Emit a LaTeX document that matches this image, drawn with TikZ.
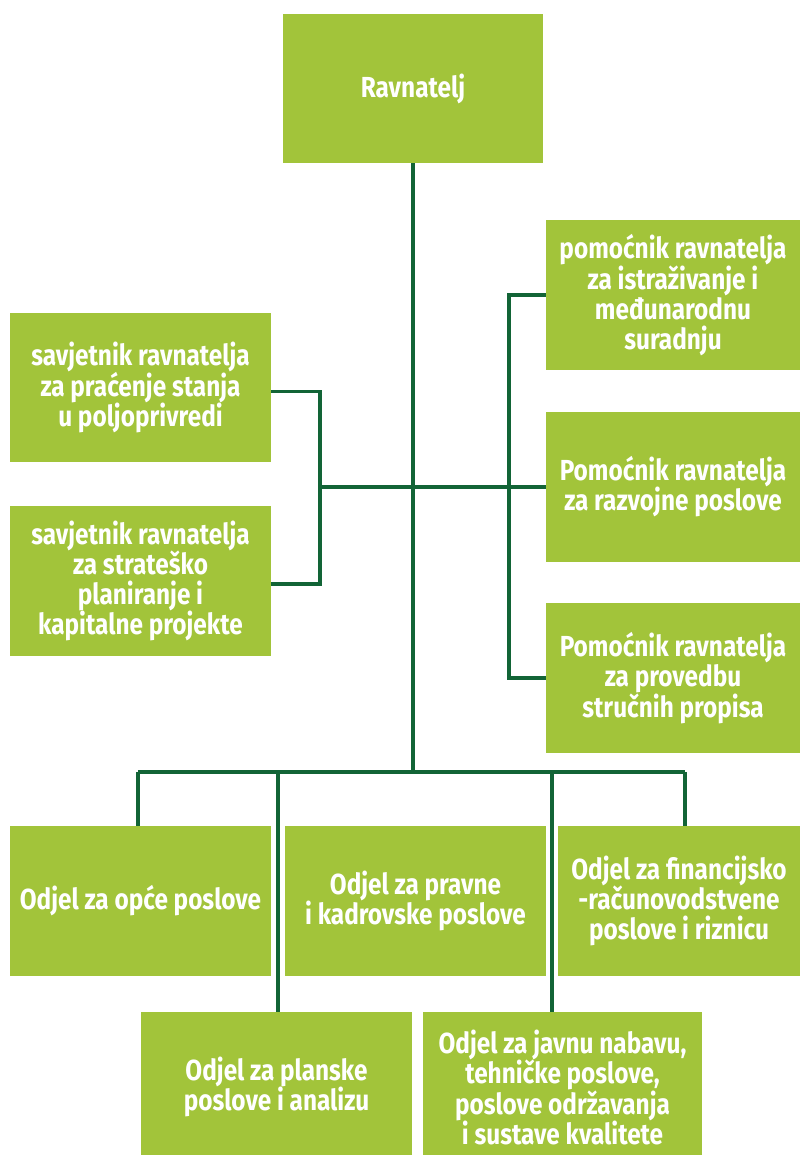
\documentclass[tikz,border=0pt]{standalone}
\usepackage{fontspec}
\setmainfont{Fira Sans}[FakeStretch=0.84]
\definecolor{boxgreen}{HTML}{A2C43A}
\definecolor{linegreen}{HTML}{126436}
\begin{document}
\begin{tikzpicture}[x=1pt,y=-1pt,
  box/.style={fill=boxgreen,draw=none,text=white,align=center,inner sep=0pt,
    font=\fontsize{29}{30}\selectfont\bfseries},
  conn/.style={draw=linegreen,line width=3.3pt,line join=miter}]
\useasboundingbox (0,0) rectangle (800,1155);
\fill[white] (0,0) rectangle (800,1155);
\node[box,minimum width=260pt,minimum height=149pt] (rav) at (413,88.5) {Ravnatelj};
\node[box,minimum width=254pt,minimum height=150pt] (pom1) at (673,295) {pomoćnik ravnatelja\\za istraživanje i\\međunarodnu\\suradnju};
\node[box,minimum width=261pt,minimum height=149pt] (sav1) at (140.5,387.5) {savjetnik ravnatelja\\za praćenje stanja\\u poljoprivredi};
\node[box,minimum width=254pt,minimum height=150pt] (pom2) at (673,487) {Pomoćnik ravnatelja\\za razvojne poslove};
\node[box,minimum width=261pt,minimum height=150pt] (sav2) at (140.5,581) {savjetnik ravnatelja\\za strateško\\planiranje i\\kapitalne projekte};
\node[box,minimum width=254pt,minimum height=150pt] (pom3) at (673,678) {Pomoćnik ravnatelja\\za provedbu\\stručnih propisa};
\node[box,minimum width=261pt,minimum height=150pt] (oda) at (140.5,901) {Odjel za opće poslove};
\node[box,minimum width=261pt,minimum height=150pt] (odb) at (415.5,901) {Odjel za pravne\\i kadrovske poslove};
\node[box,minimum width=242pt,minimum height=150pt] (odc) at (679,901) {Odjel za financijsko\\-računovodstvene\\poslove i riznicu};
\node[box,minimum width=271pt,minimum height=150pt] (odd) at (276.5,1087) {Odjel za planske\\poslove i analizu};
\node[box,minimum width=279pt,minimum height=150pt] (ode) at (562.5,1087) {Odjel za javnu nabavu,\\tehničke poslove,\\poslove održavanja\\i sustave kvalitete};
% junction coordinates
\coordinate (bus) at (413,772);
\coordinate (lbr) at (320,487);
\coordinate (rbr) at (509,487);
\coordinate (busL) at (138,772);
\coordinate (busR) at (685,772);
\coordinate (busD) at (278,772);
\coordinate (busE) at (552,772);
% main trunk
\draw[conn] (rav.south) -- (bus);
% middle horizontal
\draw[conn] (lbr) -- (pom2.west);
% left bracket
\draw[conn] ([yshift=-4pt]sav1.east) -| (lbr);
\draw[conn] ([yshift=-3pt]sav2.east) -| (lbr);
% right bracket
\draw[conn] (pom1.west) -| (rbr);
\draw[conn] (pom3.west) -| (rbr);
% bottom bus
\draw[conn] (busL) -- (busR);
\draw[conn] (busL) -- (busL |- oda.north);
\draw[conn] (busR) -- (busR |- odc.north);
\draw[conn] (busD) -- (busD |- odd.north);
\draw[conn] (busE) -- (busE |- ode.north);
\end{tikzpicture}
\end{document}
